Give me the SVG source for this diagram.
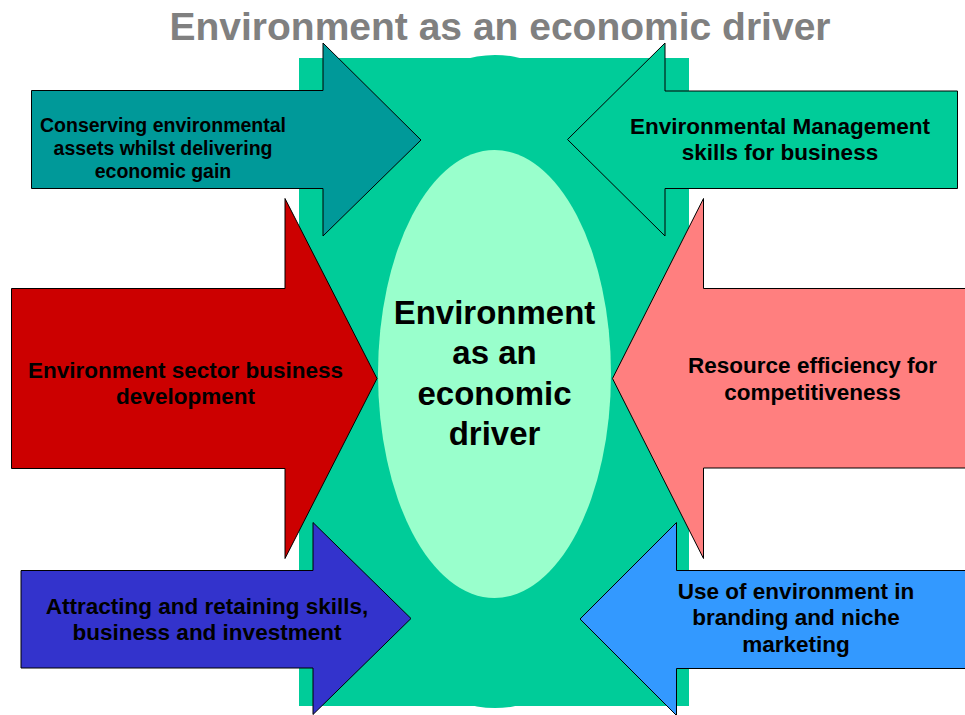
<svg xmlns="http://www.w3.org/2000/svg" width="965" height="715" viewBox="0 0 965 715">
  <style>
    .arrow { stroke: #000000; stroke-width: 1; stroke-linejoin: miter; }
    .lbl { font-family: "Liberation Sans", Arial, sans-serif; font-weight: bold; fill: #000000; text-anchor: middle; }
    .lbl-s { font-size: 19.5px; }
    .lbl-m { font-size: 22.5px; }
    .core { font-size: 33px; }
    .title { font-family: "Liberation Sans", Arial, sans-serif; font-weight: bold; font-size: 39px; fill: #808080; text-anchor: middle; }
  </style>
  <rect width="965" height="715" fill="#ffffff"/>

  <text class="title" x="500" y="40">Environment as an economic driver</text>

  <!-- central backdrop -->
  <g id="backdrop">
    <ellipse cx="495" cy="381.5" rx="184" ry="326.5" fill="#00CC99"/>
    <rect x="299" y="58" width="390" height="648" fill="#00CC99"/>
  </g>

  <g id="core">
    <ellipse cx="494.5" cy="374" rx="116.5" ry="224" fill="#99FFCC"/>
    <text class="lbl core" x="494.5" y="324">Environment</text>
    <text class="lbl core" x="494.5" y="364">as an</text>
    <text class="lbl core" x="494.5" y="404.5">economic</text>
    <text class="lbl core" x="494.5" y="445">driver</text>
  </g>

  <!-- driver arrows pointing at the core -->
  <g id="conserving">
    <polygon class="arrow" fill="#009999" points="31.5,90.5 323,90.5 323,43 421,140 323,236 323,188.5 31.5,188.5"/>
    <text class="lbl lbl-s" x="163" y="132">Conserving environmental</text>
    <text class="lbl lbl-s" x="163" y="155">assets whilst delivering</text>
    <text class="lbl lbl-s" x="163" y="178">economic gain</text>
  </g>

  <g id="management">
    <polygon class="arrow" fill="#00CC99" points="957.5,91 665,91 665,43 567.5,139.5 665,236 665,188.5 957.5,188.5"/>
    <text class="lbl lbl-m" x="780" y="133.5">Environmental Management</text>
    <text class="lbl lbl-m" x="780" y="160">skills for business</text>
  </g>

  <g id="sector">
    <polygon class="arrow" fill="#CC0000" points="11.5,288.5 285,288.5 285,198.5 377,378.5 285,558.5 285,468.5 11.5,468.5"/>
    <text class="lbl lbl-m" x="185.5" y="377.5">Environment sector business</text>
    <text class="lbl lbl-m" x="185.5" y="403.5">development</text>
  </g>

  <g id="efficiency">
    <polygon class="arrow" fill="#FF7F7F" points="972,288.5 703.5,288.5 703.5,198.5 612.5,378.5 703.5,558.5 703.5,468 972,468"/>
    <text class="lbl lbl-m" x="812.5" y="373">Resource efficiency for</text>
    <text class="lbl lbl-m" x="812.5" y="399.5">competitiveness</text>
  </g>

  <g id="attracting">
    <polygon class="arrow" fill="#3333CC" points="21,570.5 313,570.5 313,522.5 411,618.5 313,714.5 313,668 21,668"/>
    <text class="lbl lbl-m" x="207" y="613.5">Attracting and retaining skills,</text>
    <text class="lbl lbl-m" x="207" y="639.5">business and investment</text>
  </g>

  <g id="branding">
    <polygon class="arrow" fill="#3399FF" points="972,570.5 676.5,570.5 676.5,522.5 580,619 676.5,715.5 676.5,668.5 972,668.5"/>
    <text class="lbl lbl-m" x="796" y="598.5">Use of environment in</text>
    <text class="lbl lbl-m" x="796" y="625">branding and niche</text>
    <text class="lbl lbl-m" x="796" y="651.5">marketing</text>
  </g>

  <g id="connectors"/>
</svg>
